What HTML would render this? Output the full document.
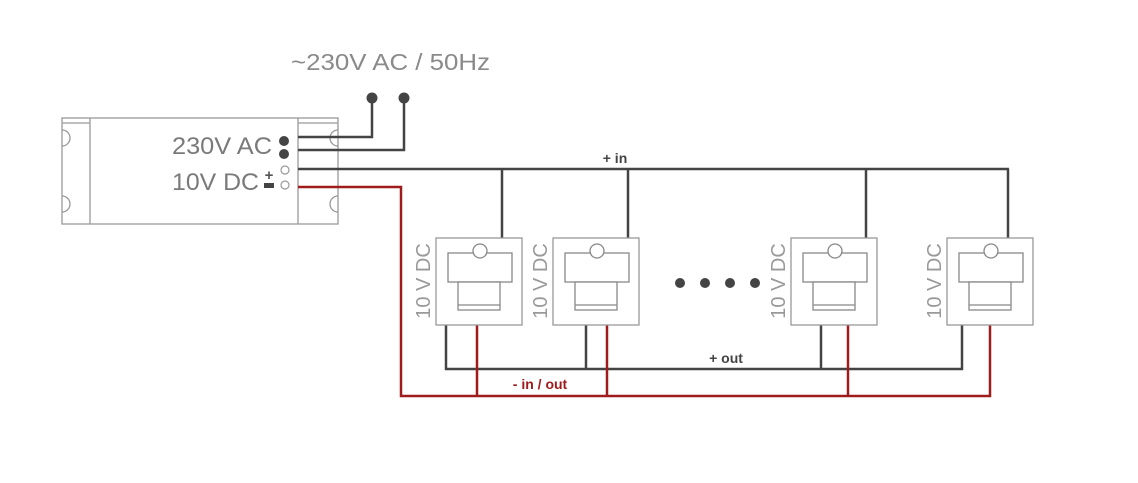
<!DOCTYPE html>
<html><head><style>
body{margin:0;background:#fff;}
svg{display:block;}
text{font-family:"Liberation Sans",sans-serif;}
</style></head><body>
<svg width="1138" height="483" viewBox="0 0 1138 483" xmlns="http://www.w3.org/2000/svg">
<rect width="1138" height="483" fill="#fff"/>
<text x="291" y="70" font-size="23" fill="#8a8a8a" textLength="199" lengthAdjust="spacingAndGlyphs">~230V AC / 50Hz</text>
<g fill="none" stroke="#999" stroke-width="1.3">
<rect x="62" y="118" width="276" height="106"/>
<line x1="90" y1="118" x2="90" y2="224"/>
<line x1="298" y1="118" x2="298" y2="224"/>
<line x1="62" y1="123" x2="90" y2="123"/>
<line x1="298" y1="123" x2="338" y2="123"/>
<path d="M62 130 A8 8 0 0 1 62 146"/>
<path d="M62 196 A8 8 0 0 1 62 212"/>
<path d="M338 130 A8 8 0 0 0 338 146"/>
<path d="M338 196 A8 8 0 0 0 338 212"/>
</g>
<text x="272" y="154" font-size="24" fill="#7a7a7a" text-anchor="end" textLength="100" lengthAdjust="spacingAndGlyphs">230V AC</text>
<text x="259" y="190" font-size="24" fill="#7a7a7a" text-anchor="end" textLength="87" lengthAdjust="spacingAndGlyphs">10V DC</text>
<text x="269" y="180" font-size="15" font-weight="bold" fill="#555" text-anchor="middle">+</text>
<rect x="264" y="183" width="10" height="5" fill="#444"/>
<circle cx="284" cy="141" r="5" fill="#444"/>
<circle cx="284" cy="154" r="5" fill="#444"/>
<circle cx="285" cy="170" r="4" fill="none" stroke="#999" stroke-width="1.2"/>
<circle cx="285" cy="185" r="4" fill="none" stroke="#999" stroke-width="1.2"/>
<g fill="none" stroke="#444" stroke-width="2.5">
<polyline points="298,137 372,137 372,98"/>
<polyline points="298,150 404,150 404,98"/>
<line x1="298" y1="169" x2="1009" y2="169"/>
<line x1="502" y1="169" x2="502" y2="238"/>
<line x1="628" y1="169" x2="628" y2="238"/>
<line x1="866" y1="169" x2="866" y2="238"/>
<line x1="1008" y1="169" x2="1008" y2="238"/>
<polyline points="446,325 446,369 962,369 962,325"/>
<line x1="586" y1="325" x2="586" y2="369"/>
<line x1="821" y1="325" x2="821" y2="369"/>
</g>
<circle cx="372" cy="98" r="5.5" fill="#444"/>
<circle cx="404" cy="98" r="5.5" fill="#444"/>
<g fill="none" stroke="#a01c1c" stroke-width="2.5">
<polyline points="298,187 401,187 401,396 990,396 990,325"/>
<line x1="477" y1="325" x2="477" y2="396"/>
<line x1="607" y1="325" x2="607" y2="396"/>
<line x1="848" y1="325" x2="848" y2="396"/>
</g>
<text x="615" y="163" font-size="14" font-weight="bold" fill="#444" text-anchor="middle">+ in</text>
<text x="726" y="363" font-size="14" font-weight="bold" fill="#444" text-anchor="middle">+ out</text>
<text x="540" y="389" font-size="14" font-weight="bold" fill="#a01c1c" text-anchor="middle">- in / out</text>
<g fill="#444"><circle cx="680" cy="283" r="5"/><circle cx="705" cy="283" r="5"/><circle cx="730" cy="283" r="5"/><circle cx="755" cy="283" r="5"/></g>
<defs>
<g id="m">
<rect x="0" y="0" width="86" height="87" fill="#fff" stroke="#999" stroke-width="1.3"/>
<rect x="12" y="15" width="64" height="29" fill="#fff" stroke="#888" stroke-width="1.3"/>
<rect x="22" y="44" width="42" height="28" fill="#fff" stroke="#888" stroke-width="1.3"/>
<line x1="22" y1="67" x2="64" y2="67" stroke="#888" stroke-width="1.3"/>
<circle cx="44" cy="13" r="7" fill="#fff" stroke="#888" stroke-width="1.3"/>
<text transform="translate(-6,43) rotate(-90)" font-size="20" fill="#999" text-anchor="middle">10 V DC</text>
</g>
</defs>
<use href="#m" x="436" y="238"/>
<use href="#m" x="553" y="238"/>
<use href="#m" x="791" y="238"/>
<use href="#m" x="947" y="238"/>
</svg>
</body></html>
